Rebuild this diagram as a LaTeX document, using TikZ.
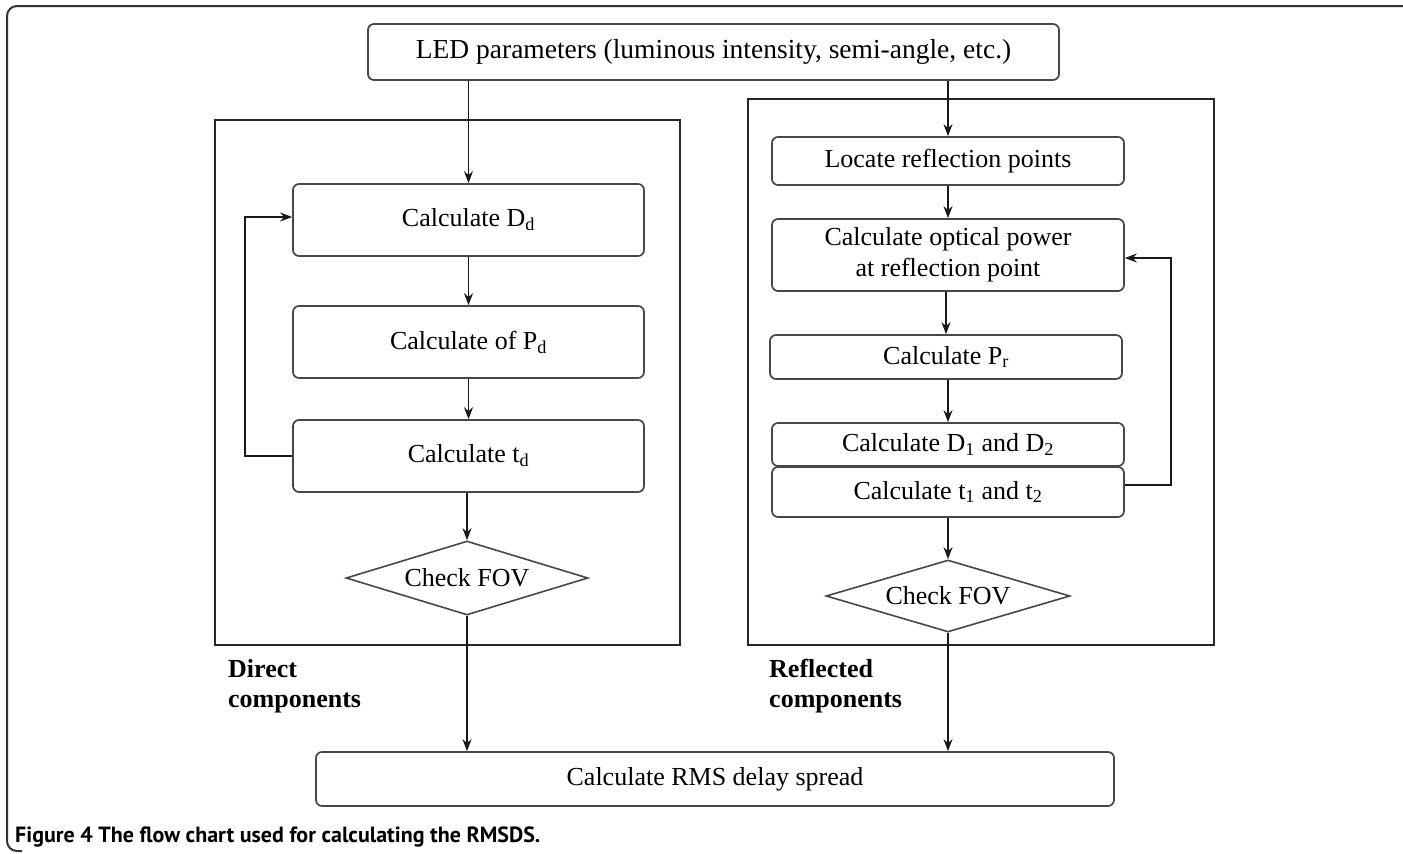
\documentclass[tikz,border=0pt]{standalone}
\usepackage{fontspec}
\setmainfont{Liberation Serif}
\newfontfamily\capfont{PT Sans}
\usetikzlibrary{shapes.geometric,arrows.meta}
\tikzset{
  box/.style={draw=black!72, line width=1.7pt, rounded corners=6pt, rectangle, inner sep=0pt, align=center,
    font=\fontsize{26}{31}\selectfont},
  fov/.style={draw=black!72, line width=1.6pt, diamond, aspect=3.3, inner sep=0pt,
    font=\fontsize{26}{31}\selectfont},
  frame/.style={draw=black!85, line width=1.8pt, rectangle, inner sep=0pt},
  arr/.style={draw=black!90, line width=1.7pt, -{Stealth[length=12pt,width=9pt]}},
  lbl/.style={inner sep=0pt, align=left, anchor=north west, font=\fontsize{26}{30}\selectfont\bfseries},
}
\begin{document}
\begin{tikzpicture}[x=1pt,y=-1pt]
\useasboundingbox (0,0) rectangle (1403,854);
% outer frame
\draw[black!80, line width=2pt, rounded corners=10pt] (1404,6) -- (7,6) -- (7,851) -- (22,851);
% group frames
\node[frame, minimum width=465pt, minimum height=525pt] (lframe) at (447.5,382.5) {};
\node[frame, minimum width=466pt, minimum height=546pt] (rframe) at (981,372) {};
% nodes
\node[box, minimum width=691pt, minimum height=56pt, font=\fontsize{27.5}{31}\selectfont] (led) at (713.5,52) {LED parameters (luminous intensity, semi-angle, etc.)};
\node[box, minimum width=351pt, minimum height=72pt] (dd) at (468.5,220) {Calculate D\textsubscript{d}};
\node[box, minimum width=351pt, minimum height=72pt] (pd) at (468.5,342) {Calculate of P\textsubscript{d}};
\node[box, minimum width=351pt, minimum height=72pt] (td) at (468.5,456) {Calculate t\textsubscript{d}};
\node[fov, minimum width=242pt, minimum height=74pt] (fovl) at (467,578) {Check FOV};
\node[box, minimum width=352pt, minimum height=48pt] (loc) at (948,161) {Locate reflection points};
\node[box, minimum width=352pt, minimum height=72pt] (opt) at (948,255) {Calculate optical power\\at reflection point};
\node[box, minimum width=352pt, minimum height=44pt] (pr) at (946,357) {Calculate P\textsubscript{r}};
\node[box, minimum width=352pt, minimum height=43pt] (d12) at (948,444.5) {Calculate D\textsubscript{1} and D\textsubscript{2}};
\node[box, minimum width=352pt, minimum height=50pt] (t12) at (948,492) {Calculate t\textsubscript{1} and t\textsubscript{2}};
\node[fov, minimum width=244pt, minimum height=72pt] (fovr) at (948,596) {Check FOV};
\node[box, minimum width=798pt, minimum height=54pt] (rms) at (715,779) {Calculate RMS delay spread};
% labels
\node[lbl] (ldir) at (228,659) {Direct\\components};
\node[lbl] (lref) at (769,659) {Reflected\\components};
\node[inner sep=0pt, anchor=base west, font=\capfont\fontsize{22}{26}\selectfont\bfseries] (cap) at (15,842) {Figure 4 The flow chart used for calculating the RMSDS.};
% connectors
\draw[arr] (dd.north |- led.south) -- (dd.north);
\draw[arr] (loc.north |- led.south) -- (loc.north);
\draw[arr] (dd) -- (pd);
\draw[arr] (pd) -- (td);
\draw[arr] (td.south -| fovl.north) -- (fovl.north);
\draw[arr] (fovl.south) -- (fovl.south |- rms.north);
\draw[arr] (loc) -- (opt);
\draw[arr] (opt.south -| pr.north) -- (pr.north);
\draw[arr] (pr.south -| d12.north) -- (d12.north);
\draw[arr] (t12.south -| fovr.north) -- (fovr.north);
\draw[arr] (fovr.south) -- (fovr.south |- rms.north);
\draw[arr] (td.west) -- ++(-47,0) |- ([yshift=3pt]dd.west);
\draw[arr] ([yshift=7pt]t12.east) -- ++(46,0) |- ([yshift=-3pt]opt.east);
\end{tikzpicture}
\end{document}
